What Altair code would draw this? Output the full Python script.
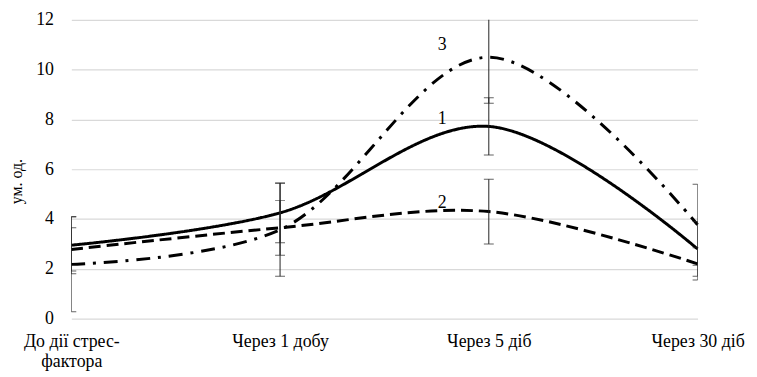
import altair as alt
import pandas as pd

categories = ["До дії стрес-фактора", "Через 1 добу", "Через 5 діб", "Через 30 діб"]
series_names = ["1", "2", "3"]
s1 = [2.95, 4.25, 7.72, 2.80]
s2 = [2.78, 3.65, 4.30, 2.20]
s3 = [2.18, 3.57, 10.50, 3.77]
e1 = [1.15, 1.20, 1.15, 1.10]
e2 = [0.87, 1.10, 1.30, 0.65]
e3 = [1.90, 1.87, 1.85, 1.63]
label_text = ["3", "1", "2"]
label_y = [11.0, 8.0, 4.65]
label_x = ["Через 5 діб", "Через 5 діб", "Через 5 діб"]

rows = []
for name, vals, errs in zip(series_names, [s1, s2, s3], [e1, e2, e3]):
    for c, v, e in zip(categories, vals, errs):
        rows.append({"cat": c, "series": name, "value": v, "lo": v - e, "hi": v + e})
df = pd.DataFrame(rows)
labels = pd.DataFrame({"cat": label_x, "y": label_y, "t": label_text})

font = "Liberation Serif"
xenc = alt.X("cat:N", sort=categories, scale=alt.Scale(type="point", padding=0),
             axis=alt.Axis(title=None, labelAngle=0,
                           labelExpr="datum.label == 'До дії стрес-фактора' ? ['До дії стрес-', 'фактора'] : datum.label"))
yscale = alt.Scale(domain=[0, 12])
yaxis = alt.Axis(title="ум. од.", values=[0, 2, 4, 6, 8, 10, 12])

xplain = alt.X("cat:N", sort=categories, title=None)
base = alt.Chart(df)

lines = base.mark_line(interpolate="catmull-rom", strokeWidth=3, color="black").encode(
    x=xenc,
    y=alt.Y("value:Q", scale=yscale, axis=yaxis),
    strokeDash=alt.StrokeDash("series:N", scale=alt.Scale(domain=series_names,
                              range=[[1, 0], [12, 6], [14, 8, 3, 8]]), legend=None),
    detail="series:N",
)

rules = base.mark_rule(color="#222222", strokeWidth=1, clip=True).encode(
    x=xplain, y=alt.Y("lo:Q", title="ум. од."), y2="hi:Q")
cap_lo = base.mark_tick(color="#222222", thickness=1, size=10, clip=True).encode(
    x=xplain, y=alt.Y("lo:Q", title="ум. од."))
cap_hi = base.mark_tick(color="#222222", thickness=1, size=10, clip=True).encode(
    x=xplain, y=alt.Y("hi:Q", title="ум. од."))

texts = alt.Chart(labels).mark_text(font=font, fontSize=18, color="black", dx=-47).encode(
    x=xplain, y=alt.Y("y:Q", title="ум. од."), text="t:N")

chart = alt.layer(lines, rules, cap_lo, cap_hi, texts).properties(
    width=633, height=302,
    autosize=alt.AutoSizeParams(type="none"),
    padding={"left": 64, "top": 10, "right": 52, "bottom": 58},
).configure_view(stroke=None).configure_axis(
    gridColor="#d9d9d9", gridWidth=1.2, domain=False, ticks=False,
    labelFont=font, labelColor="#000000",
    titleFont=font, titleFontSize=16, titleFontWeight="normal", titleColor="#000000",
).configure_axisX(labelPadding=14, labelFontSize=18, labelLineHeight=20, grid=False).configure_axisY(
    labelPadding=18, labelFontSize=18, titleX=-55, titleY=163, titleAngle=270,
    titleAlign="center", titleBaseline="middle")

chart.save("out.html", embed_options={"renderer": "svg", "actions": False})
